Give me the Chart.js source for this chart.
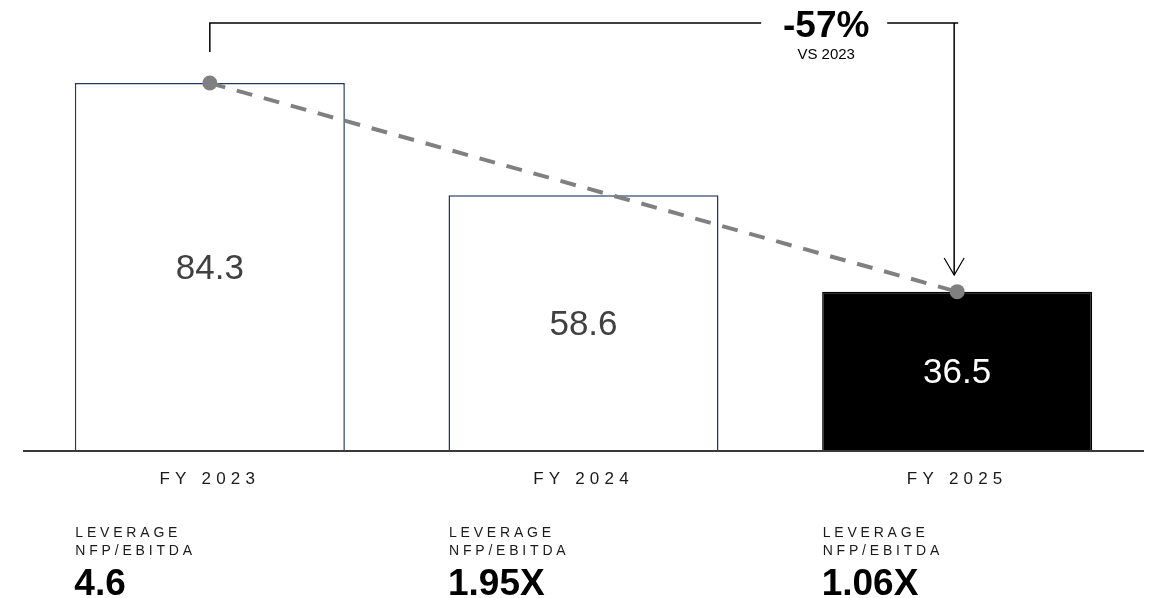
<!DOCTYPE html>
<html>
<head>
<meta charset="utf-8">
<script src="https://cdn.jsdelivr.net/npm/chart.js@4"></script>
<style>
  body { margin: 0; background: #fff; }
  #wrap { width: 1153px; height: 598px; position: relative; }
</style>
</head>
<body>
<div id="wrap"><canvas id="debtChart"></canvas></div>
<script>
const years = ["FY 2023", "FY 2024", "FY 2025"]
const debt = [84.3, 58.6, 36.5]
const trend = [84.3, null, 36.5]
const leverage = ["4.6", "1.95X", "1.06X"]
const leverageLabel = ["LEVERAGE", "NFP/EBITDA"]
const compareLabel = "VS 2023"

const FONT = "'Liberation Sans', Arial, sans-serif"

// draws baseline, value labels, bracket and the text under the bars
const extras = {
    id: "extras",
    afterDatasetsDraw(chart){
        const ctx = chart.ctx
        const area = chart.chartArea
        const x = chart.scales.x
        const y = chart.scales.y
        const bars = chart.getDatasetMeta(1).data
        const y0 = y.getPixelForValue(0)

        ctx.save()
        // baseline
        ctx.strokeStyle = "#3a3a3a"
        ctx.lineWidth = 2
        ctx.beginPath()
        ctx.moveTo(area.left, y0)
        ctx.lineTo(area.right, y0)
        ctx.stroke()

        // values inside bars
        ctx.font = "35px " + FONT
        ctx.textAlign = "center"
        ctx.textBaseline = "middle"
        bars.forEach((b, i) => {
            ctx.fillStyle = i === 2 ? "#ffffff" : "#404040"
            ctx.fillText(debt[i].toFixed(1), b.x, (b.y + y0) / 2 + 2)
        })

        // category labels + leverage block
        bars.forEach((b, i) => {
            const left = b.x - 134.5
            ctx.fillStyle = "#1a1a1a"
            ctx.textBaseline = "alphabetic"
            ctx.textAlign = "center"
            ctx.font = "17px " + FONT
            ctx.letterSpacing = "5.2px"
            ctx.fillText(years[i], b.x, 484)

            ctx.textAlign = "left"
            ctx.font = "14px " + FONT
            ctx.letterSpacing = "3.8px"
            ctx.fillText(leverageLabel[0], left, 537)
            ctx.fillText(leverageLabel[1], left, 555)

            ctx.letterSpacing = "0px"
            ctx.font = "bold 37px " + FONT
            ctx.fillStyle = "#000"
            ctx.fillText(leverage[i], left - 1, 595)
        })

        // bracket from FY 2023 to FY 2025
        const xa = x.getPixelForValue(0)
        const xb = x.getPixelForValue(2) - 3
        const top = 23
        const labelX = xb - 128
        ctx.strokeStyle = "#000"
        ctx.lineWidth = 1.5
        ctx.beginPath()
        ctx.moveTo(xa, 52)
        ctx.lineTo(xa, top)
        ctx.lineTo(labelX - 65, top)
        ctx.moveTo(labelX + 61, top)
        ctx.lineTo(xb + 4, top)
        ctx.moveTo(xb, top)
        ctx.lineTo(xb, 275)
        ctx.stroke()
        ctx.lineWidth = 1.2
        ctx.beginPath()
        ctx.moveTo(xb - 10, 258)
        ctx.lineTo(xb, 275)
        ctx.lineTo(xb + 10, 258)
        ctx.stroke()

        const change = Math.round((debt[2] - debt[0]) / debt[0] * 100)
        ctx.fillStyle = "#000"
        ctx.textAlign = "center"
        ctx.font = "bold 37px " + FONT
        ctx.fillText(change + "%", labelX, 37)
        ctx.font = "15px " + FONT
        ctx.fillText(compareLabel, labelX, 59)
        ctx.restore()
    }
}

const ctx = document.getElementById("debtChart").getContext("2d")
const debtChart = new Chart(ctx, {
    data: {
        labels: years,
        datasets: [{
            type: "line",
            label: "Trend",
            data: trend,
            spanGaps: true,
            borderColor: "#808080",
            borderWidth: 4,
            borderDash: [16, 12],
            pointRadius: 7.5,
            pointBackgroundColor: "#808080",
            pointBorderWidth: 0,
            order: 0
        }, {
            type: "bar",
            label: "NFP",
            data: debt,
            backgroundColor: ["#ffffff", "#ffffff", "#000000"],
            borderColor: ["#1f3864", "#1f3864", "#000000"],
            borderWidth: 1.5,
            categoryPercentage: 1,
            barPercentage: 0.7226,
            order: 1
        }]
    },
    options: {
        responsive: true,
        maintainAspectRatio: false,
        animation: false,
        layout: { padding: { left: 23, right: 9, top: 14.5, bottom: 147 } },
        plugins: { legend: { display: false }, tooltip: { enabled: false } },
        scales: {
            x: { display: false, offset: true },
            y: { display: false, min: 0, max: 100 }
        }
    },
    plugins: [extras]
})
</script>
</body>
</html>
